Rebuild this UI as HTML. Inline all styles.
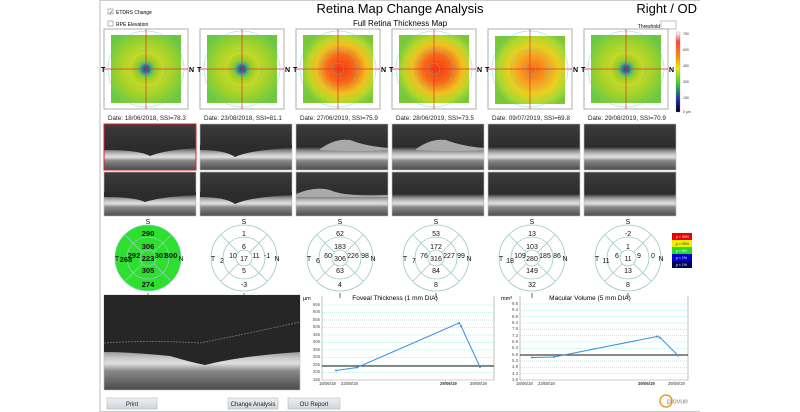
<!DOCTYPE html>
<html><head><meta charset="utf-8"><style>
html,body{margin:0;padding:0;background:#fff;width:800px;height:412px;overflow:hidden}
svg{display:block;font-family:"Liberation Sans",sans-serif}
</style></head><body>
<svg width="800" height="412" viewBox="0 0 800 412" xmlns="http://www.w3.org/2000/svg">
<defs>
<radialGradient id="hn" cx="50%" cy="50%" r="60%">
<stop offset="0" stop-color="#1a2f7a"/><stop offset="0.1" stop-color="#2a8aa0"/><stop offset="0.2" stop-color="#8acc30"/><stop offset="0.4" stop-color="#c8d820"/><stop offset="0.6" stop-color="#a8d428"/><stop offset="1" stop-color="#6cc840"/></radialGradient>
<radialGradient id="hr" cx="55%" cy="50%" r="60%">
<stop offset="0" stop-color="#f53a10"/><stop offset="0.35" stop-color="#f86a18"/><stop offset="0.6" stop-color="#f0c020"/><stop offset="0.8" stop-color="#b8d828"/><stop offset="1" stop-color="#78c838"/></radialGradient>
<radialGradient id="ho" cx="55%" cy="50%" r="60%">
<stop offset="0" stop-color="#f56a10"/><stop offset="0.35" stop-color="#f8a020"/><stop offset="0.6" stop-color="#e8d020"/><stop offset="0.85" stop-color="#a8d830"/><stop offset="1" stop-color="#78c838"/></radialGradient>
<linearGradient id="cb" x1="0" y1="0" x2="0" y2="1">
<stop offset="0" stop-color="#fff"/><stop offset="0.12" stop-color="#f44"/><stop offset="0.3" stop-color="#f80"/><stop offset="0.45" stop-color="#ee0"/><stop offset="0.65" stop-color="#3c3"/><stop offset="0.85" stop-color="#22a"/><stop offset="1" stop-color="#000"/></linearGradient>
<linearGradient id="oct" x1="0" y1="0" x2="0" y2="1">
<stop offset="0" stop-color="#3c3c3c"/><stop offset="0.5" stop-color="#2c2c2c"/><stop offset="0.58" stop-color="#8a8a8a"/><stop offset="0.66" stop-color="#c8c8c8"/><stop offset="0.72" stop-color="#e0e0e0"/><stop offset="0.8" stop-color="#888"/><stop offset="1" stop-color="#4a4a4a"/></linearGradient>
<linearGradient id="btn" x1="0" y1="0" x2="0" y2="1"><stop offset="0" stop-color="#eef0f2"/><stop offset="1" stop-color="#cfd5da"/></linearGradient>
</defs>
<line x1="100" y1="0" x2="700" y2="0" stroke="#999"/>
<line x1="100" y1="0" x2="100" y2="412" stroke="#bbb"/>
<!-- header -->
<rect x="108" y="9" width="5" height="5" fill="#fff" stroke="#888" stroke-width="0.6"/><text x="109" y="14" font-size="5">✓</text>
<text x="116" y="14" font-size="5">ETDRS Change</text>
<rect x="108" y="21" width="5" height="5" fill="#fff" stroke="#888" stroke-width="0.6"/>
<text x="116" y="26" font-size="5">RPE Elevation</text>
<text x="400" y="13" font-size="13" text-anchor="middle">Retina Map Change Analysis</text>
<text x="400" y="26" font-size="8" text-anchor="middle">Full Retina Thickness Map</text>
<text x="697" y="13" font-size="13" text-anchor="end">Right / OD</text>
<text x="660" y="28" font-size="5" text-anchor="end">Threshold</text>
<rect x="661" y="21" width="15" height="8" fill="#fff" stroke="#999" stroke-width="0.6"/>
<rect x="676" y="32" width="4" height="80" fill="url(#cb)" stroke="#888" stroke-width="0.3"/>
<g font-size="3.5" fill="#333"><text x="683" y="35">750</text><text x="683" y="51">600</text><text x="683" y="67">450</text><text x="683" y="83">300</text><text x="683" y="99">150</text><text x="683" y="113">0 µm</text></g>
<!-- maps -->
<g stroke="#999" stroke-width="0.8" fill="#fff">
<rect x="104" y="29" width="84" height="80"/><rect x="200" y="29" width="84" height="80"/><rect x="296" y="29" width="84" height="80"/><rect x="392" y="29" width="84" height="80"/><rect x="488" y="29" width="84" height="80"/><rect x="584" y="29" width="84" height="80"/>
</g>
<rect x="111" y="35" width="70" height="68" fill="url(#hn)"/>
<rect x="207" y="35" width="70" height="68" fill="url(#hn)"/>
<rect x="303" y="35" width="70" height="68" fill="url(#hr)"/>
<rect x="399" y="35" width="70" height="68" fill="url(#hr)"/>
<rect x="495" y="36" width="70" height="68" fill="url(#ho)"/>
<rect x="591" y="35" width="70" height="68" fill="url(#hn)"/>
<g fill="none" stroke="#5fd0c0" stroke-width="0.5" opacity="0.8">
<circle cx="146" cy="69" r="6"/><circle cx="146" cy="69" r="19"/><circle cx="146" cy="69" r="38"/>
<circle cx="242" cy="69" r="6"/><circle cx="242" cy="69" r="19"/><circle cx="242" cy="69" r="38"/>
<circle cx="338" cy="69" r="6"/><circle cx="338" cy="69" r="19"/><circle cx="338" cy="69" r="38"/>
<circle cx="434" cy="69" r="6"/><circle cx="434" cy="69" r="19"/><circle cx="434" cy="69" r="38"/>
<circle cx="530" cy="69" r="6"/><circle cx="530" cy="69" r="19"/><circle cx="530" cy="69" r="38"/>
<circle cx="626" cy="69" r="6"/><circle cx="626" cy="69" r="19"/><circle cx="626" cy="69" r="38"/>
</g>
<g stroke="#d33" stroke-width="0.7">
<line x1="146" y1="29" x2="146" y2="109"/><line x1="104" y1="69" x2="188" y2="69"/>
<line x1="242" y1="29" x2="242" y2="109"/><line x1="200" y1="69" x2="284" y2="69"/>
<line x1="338" y1="29" x2="338" y2="109"/><line x1="296" y1="69" x2="380" y2="69"/>
<line x1="434" y1="29" x2="434" y2="109"/><line x1="392" y1="69" x2="476" y2="69"/>
<line x1="530" y1="29" x2="530" y2="109"/><line x1="488" y1="69" x2="572" y2="69"/>
<line x1="626" y1="29" x2="626" y2="109"/><line x1="584" y1="69" x2="668" y2="69"/>
</g>
<g font-size="7" font-weight="bold">
<text x="101" y="72">T</text><text x="189" y="72">N</text><text x="197" y="72">T</text><text x="285" y="72">N</text><text x="293" y="72">T</text><text x="381" y="72">N</text><text x="389" y="72">T</text><text x="477" y="72">N</text><text x="485" y="72">T</text><text x="573" y="72">N</text><text x="581" y="72">T</text><text x="669" y="72">N</text>
</g>
<g font-size="6.3" fill="#222">
<text x="108" y="120">Date: 18/06/2018, SSI=78.3</text><text x="204" y="120">Date: 23/08/2018, SSI=81.1</text><text x="300" y="120">Date: 27/06/2019, SSI=75.9</text><text x="396" y="120">Date: 28/06/2019, SSI=73.5</text><text x="492" y="120">Date: 09/07/2019, SSI=69.8</text><text x="588" y="120">Date: 29/08/2019, SSI=70.9</text>
</g>
<!-- OCT strips -->
<g fill="url(#oct)" stroke="#bbb" stroke-width="0.6">
<rect x="104" y="124" width="92" height="46"/><rect x="200" y="124" width="92" height="46"/><rect x="296" y="124" width="92" height="46"/><rect x="392" y="124" width="92" height="46"/><rect x="488" y="124" width="92" height="46"/><rect x="584" y="124" width="92" height="46"/>
<rect x="104" y="172" width="92" height="44"/><rect x="200" y="172" width="92" height="44"/><rect x="296" y="172" width="92" height="44"/><rect x="392" y="172" width="92" height="44"/><rect x="488" y="172" width="92" height="44"/><rect x="584" y="172" width="92" height="44"/>
</g>
<g fill="#2c2c2c">
<path d="M104 150 Q140 150 150 156 Q165 150 196 148 L196 145 L104 145Z"/>
<path d="M200 150 Q225 150 235 157 Q250 150 292 148 L292 145 L200 145Z"/>
<path d="M104 197 Q135 197 145 202 Q160 197 196 195 L196 192 L104 192Z"/>
<path d="M200 197 Q225 197 235 204 Q250 197 292 195 L292 192 L200 192Z"/>
</g>
<g fill="#aaa"><path d="M320 149 Q335 138 350 140 Q365 146 388 148 L388 150 Q360 152 320 150Z"/><path d="M416 149 Q431 138 446 140 Q461 146 484 148 L484 150 Q456 152 416 150Z"/><path d="M296 194 Q315 186 330 190 Q345 197 388 195 L388 197 L296 197Z"/></g>
<rect x="104" y="124" width="92" height="46" fill="none" stroke="#d22" stroke-width="1"/>
<!-- ETDRS -->
<circle cx="148" cy="258" r="33" fill="#2ee02e" stroke="#8cc" stroke-width="0.7"/>
<g fill="none" stroke="#9cc8c8" stroke-width="0.8">
<circle cx="148" cy="258" r="21"/><circle cx="148" cy="258" r="8"/>
<circle cx="244" cy="258" r="33"/><circle cx="244" cy="258" r="21"/><circle cx="244" cy="258" r="8"/>
<circle cx="340" cy="258" r="33"/><circle cx="340" cy="258" r="21"/><circle cx="340" cy="258" r="8"/>
<circle cx="436" cy="258" r="33"/><circle cx="436" cy="258" r="21"/><circle cx="436" cy="258" r="8"/>
<circle cx="532" cy="258" r="33"/><circle cx="532" cy="258" r="21"/><circle cx="532" cy="258" r="8"/>
<circle cx="628" cy="258" r="33"/><circle cx="628" cy="258" r="21"/><circle cx="628" cy="258" r="8"/>
</g>
<g stroke="#9cc8c8" stroke-width="0.8">
<path d="M154 252L171 235M142 252L125 235M154 264L171 281M142 264L125 281"/>
<path d="M250 252L267 235M238 252L221 235M250 264L267 281M238 264L221 281"/>
<path d="M346 252L363 235M334 252L317 235M346 264L363 281M334 264L317 281"/>
<path d="M442 252L459 235M430 252L413 235M442 264L459 281M430 264L413 281"/>
<path d="M538 252L555 235M526 252L509 235M538 264L555 281M526 264L509 281"/>
<path d="M634 252L651 235M622 252L605 235M634 264L651 281M622 264L605 281"/>
</g>
<g font-size="7" text-anchor="middle" fill="#111">
<text x="148" y="224">S</text><text x="148" y="298">I</text><text x="244" y="224">S</text><text x="244" y="298">I</text><text x="340" y="224">S</text><text x="340" y="298">I</text><text x="436" y="224">S</text><text x="436" y="298">I</text><text x="532" y="224">S</text><text x="532" y="298">I</text><text x="628" y="224">S</text><text x="628" y="298">I</text>
<text x="117" y="261">T</text><text x="181" y="261">N</text><text x="213" y="261">T</text><text x="277" y="261">N</text><text x="309" y="261">T</text><text x="373" y="261">N</text><text x="405" y="261">T</text><text x="469" y="261">N</text><text x="501" y="261">T</text><text x="565" y="261">N</text><text x="597" y="261">T</text><text x="661" y="261">N</text>
</g>
<g font-size="7.5" text-anchor="middle" fill="#111" font-weight="bold">
<text x="148" y="236">290</text><text x="148" y="249">306</text><text x="148" y="261">223</text><text x="148" y="273">305</text><text x="148" y="287">274</text><text x="126" y="262">268</text><text x="134" y="258">292</text><text x="161" y="258">301</text><text x="171" y="258">300</text>
</g>
<g font-size="7" text-anchor="middle" fill="#111">
<text x="244" y="236">1</text><text x="244" y="249">6</text><text x="244" y="261">17</text><text x="244" y="273">5</text><text x="244" y="287">-3</text><text x="222" y="263">2</text><text x="233" y="258">10</text><text x="256" y="258">11</text><text x="267" y="258">-1</text>
<text x="340" y="236">62</text><text x="340" y="249">183</text><text x="340" y="261">306</text><text x="340" y="273">63</text><text x="340" y="287">4</text><text x="318" y="263">6</text><text x="328" y="258">60</text><text x="353" y="258">226</text><text x="365" y="258">98</text>
<text x="436" y="236">53</text><text x="436" y="249">172</text><text x="436" y="261">316</text><text x="436" y="273">84</text><text x="436" y="287">8</text><text x="414" y="263">7</text><text x="424" y="258">76</text><text x="449" y="258">227</text><text x="461" y="258">99</text>
<text x="532" y="236">13</text><text x="532" y="249">103</text><text x="532" y="261">280</text><text x="532" y="273">149</text><text x="532" y="287">32</text><text x="510" y="263">18</text><text x="520" y="258">109</text><text x="545" y="258">185</text><text x="557" y="258">86</text>
<text x="628" y="236">-2</text><text x="628" y="249">1</text><text x="628" y="261">11</text><text x="628" y="273">13</text><text x="628" y="287">8</text><text x="606" y="263">11</text><text x="617" y="258">6</text><text x="639" y="258">9</text><text x="653" y="258">0</text>
</g>
<g font-size="3.5" fill="#fff">
<rect x="672" y="233" width="20" height="7" fill="#e00"/><rect x="672" y="240" width="20" height="7" fill="#ee0"/><rect x="672" y="247" width="20" height="7" fill="#2d2"/><rect x="672" y="254" width="20" height="7" fill="#00c"/><rect x="672" y="261" width="20" height="7" fill="#005"/>
<text x="676" y="238">p &lt; 99%</text><text x="676" y="245" fill="#333">p &gt; 95%</text><text x="676" y="252">p &gt; 5%</text><text x="676" y="259">p &lt; 1%</text><text x="676" y="266">p &lt; 1%</text>
</g>
<!-- bottom OCT -->
<rect x="104" y="295" width="196" height="95" fill="url(#oct)" stroke="#bbb" stroke-width="0.6"/>
<path d="M104 295 H300 V352 Q240 356 205 365 Q190 362 170 356 Q130 352 104 352Z" fill="#262626"/>
<path d="M104 343 Q150 340 200 343 Q250 333 300 322" fill="none" stroke="#777" stroke-width="0.8" stroke-dasharray="2,1"/>
<!-- chart1 -->
<text x="303" y="300" font-size="5.5">µm</text>
<text x="395" y="300" font-size="6.5" text-anchor="middle">Foveal Thickness (1 mm DIA)</text>
<g stroke="#7cb" stroke-width="0.4" stroke-dasharray="1,1">
<line x1="322" y1="305" x2="494" y2="305"/><line x1="322" y1="312.5" x2="494" y2="312.5"/><line x1="322" y1="320" x2="494" y2="320"/><line x1="322" y1="327.5" x2="494" y2="327.5"/><line x1="322" y1="335" x2="494" y2="335"/><line x1="322" y1="342.5" x2="494" y2="342.5"/><line x1="322" y1="350" x2="494" y2="350"/><line x1="322" y1="357.5" x2="494" y2="357.5"/><line x1="322" y1="365" x2="494" y2="365"/><line x1="322" y1="372.5" x2="494" y2="372.5"/>
</g>
<path d="M322 296V380H494V296" fill="none" stroke="#999" stroke-width="0.6"/>
<g font-size="4.3" fill="#555" text-anchor="end">
<text x="320" y="306">655</text><text x="320" y="313">605</text><text x="320" y="321">555</text><text x="320" y="328">505</text><text x="320" y="336">455</text><text x="320" y="343">405</text><text x="320" y="351">355</text><text x="320" y="358">305</text><text x="320" y="366">255</text><text x="320" y="373">205</text><text x="320" y="381">155</text>
</g>
<line x1="322" y1="366" x2="494" y2="366" stroke="#444" stroke-width="1.2"/>
<polyline points="336,370.5 357,367.5 459,323 461,326 480,367" fill="none" stroke="#3a8ee0" stroke-width="1"/>
<g fill="#3a8ee0"><circle cx="336" cy="370.5" r="1"/><circle cx="357" cy="367.5" r="1"/><circle cx="459" cy="323" r="1"/><circle cx="461" cy="326" r="1"/><circle cx="480" cy="367" r="1"/></g>
<g font-size="4.3" fill="#333"><text x="319" y="385">18/06/18</text><text x="341" y="385">23/08/18</text><text x="440" y="385" font-weight="bold">29/06/19</text><text x="470" y="385">29/08/19</text></g>
<!-- chart2 -->
<text x="501" y="300" font-size="5.5">mm³</text>
<text x="590" y="300" font-size="6.5" text-anchor="middle">Macular Volume (5 mm DIA)</text>
<g stroke="#7cb" stroke-width="0.4" stroke-dasharray="1,1">
<line x1="520" y1="304" x2="688" y2="304"/><line x1="520" y1="310.3" x2="688" y2="310.3"/><line x1="520" y1="316.7" x2="688" y2="316.7"/><line x1="520" y1="323" x2="688" y2="323"/><line x1="520" y1="329.3" x2="688" y2="329.3"/><line x1="520" y1="335.7" x2="688" y2="335.7"/><line x1="520" y1="342" x2="688" y2="342"/><line x1="520" y1="348.3" x2="688" y2="348.3"/><line x1="520" y1="354.7" x2="688" y2="354.7"/><line x1="520" y1="361" x2="688" y2="361"/><line x1="520" y1="367.3" x2="688" y2="367.3"/><line x1="520" y1="373.7" x2="688" y2="373.7"/>
</g>
<path d="M520 296V380H688V296" fill="none" stroke="#999" stroke-width="0.6"/>
<g font-size="4.3" fill="#555" text-anchor="end">
<text x="518" y="305">9.8</text><text x="518" y="311">9.3</text><text x="518" y="318">8.8</text><text x="518" y="324">8.3</text><text x="518" y="330">7.8</text><text x="518" y="337">7.3</text><text x="518" y="343">6.8</text><text x="518" y="349">6.3</text><text x="518" y="356">5.8</text><text x="518" y="362">5.3</text><text x="518" y="368">4.8</text><text x="518" y="375">4.3</text><text x="518" y="381">3.8</text>
</g>
<line x1="520" y1="355" x2="688" y2="355" stroke="#444" stroke-width="1.2"/>
<polyline points="532,357.5 554,357 657,336.5 660,337.5 678,355.5" fill="none" stroke="#3a8ee0" stroke-width="1"/>
<g fill="#3a8ee0"><circle cx="532" cy="357.5" r="1"/><circle cx="554" cy="357" r="1"/><circle cx="657" cy="336.5" r="1"/><circle cx="660" cy="337.5" r="1"/><circle cx="678" cy="355.5" r="1"/></g>
<g font-size="4.3" fill="#333"><text x="516" y="385">18/06/18</text><text x="538" y="385">23/08/18</text><text x="638" y="385" font-weight="bold">29/06/19</text><text x="668" y="385">29/08/19</text></g>
<!-- buttons -->
<g stroke="#bbb" stroke-width="0.6" fill="url(#btn)">
<rect x="107" y="398" width="50" height="11"/><rect x="228" y="398" width="50" height="11"/><rect x="288" y="398" width="52" height="11"/>
</g>
<g font-size="6" text-anchor="middle" fill="#222"><text x="132" y="406">Print</text><text x="253" y="406">Change Analysis</text><text x="314" y="406">OU Report</text></g>
<circle cx="666" cy="401" r="6" fill="none" stroke="#e8a020" stroke-width="1.5"/>
<text x="667" y="403.5" font-size="7" fill="#888">ptovue</text>
<line x1="100" y1="411.5" x2="700" y2="411.5" stroke="#ccc"/>
</svg>
</body></html>
